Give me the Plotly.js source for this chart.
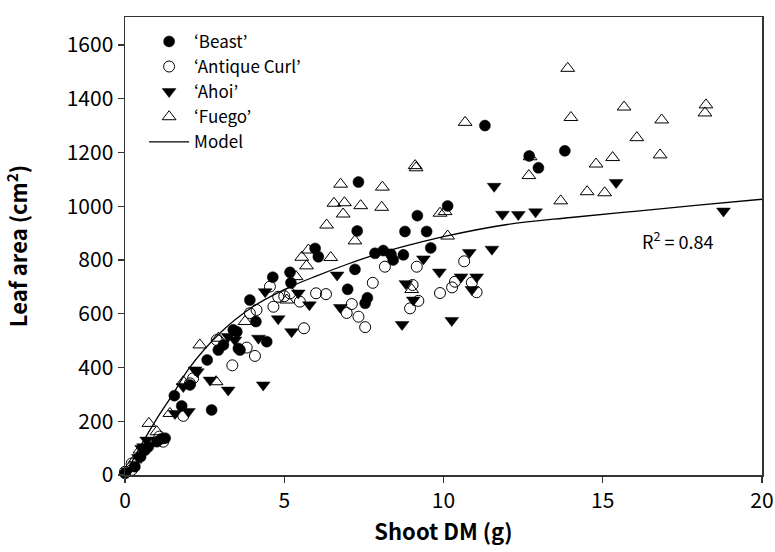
<!DOCTYPE html>
<html><head><meta charset="utf-8">
<script src="https://cdn.plot.ly/plotly-3.0.1.min.js"></script>
<style>body{margin:0;padding:0;background:#fff}#chart{width:775px;height:552px}</style>
</head><body><div id="chart"></div>
<script>
// Shoot DM (g) and Leaf area (cm2) per cultivar
const beastX = [0.0,0.31,0.49,0.63,0.73,1.0,1.15,1.26,1.55,1.78,2.04,2.58,2.72,2.93,3.09,3.40,3.51,3.56,3.61,3.92,4.11,4.45,4.64,5.18,5.21,5.97,6.07,6.99,7.22,7.29,7.33,7.54,7.61,7.85,8.11,8.35,8.42,8.74,8.79,9.18,9.47,9.60,10.13,11.30,12.69,12.98,13.81];
const beastY = [6,31,68,93,105,124,135,137,295,257,335,428,242,465,484,540,533,471,465,651,571,496,736,754,715,843,812,691,765,908,1090,639,659,825,835,821,800,819,906,965,906,845,1001,1300,1187,1143,1206];

const antiqueX = [0.0,0.21,0.21,0.78,1.08,1.20,1.83,2.04,2.14,2.88,3.37,3.82,4.08,3.92,4.13,4.55,4.66,4.81,5.18,5.0,5.49,5.62,6.00,6.31,6.96,7.12,7.33,7.54,7.78,8.16,8.95,9.03,9.16,9.21,9.89,10.27,10.36,10.65,10.89,11.04];
const antiqueY = [12,43,19,118,143,124,220,341,360,502,408,474,443,602,614,701,626,663,676,665,645,546,676,673,603,636,589,550,715,775,620,707,775,648,677,698,719,795,716,680];

const ahoiX = [0.10,0.42,0.52,0.58,0.68,1.57,1.83,1.99,2.20,2.27,2.67,3.24,3.24,3.45,4.19,4.34,4.40,4.81,5.23,5.44,5.79,6.66,6.76,8.70,8.82,9.05,9.37,9.87,10.26,10.55,10.81,10.89,11.04,11.52,11.59,11.85,12.35,12.89,15.42,18.79];
const ahoiY = [15,65,99,105,130,229,329,236,391,384,353,316,515,502,509,335,682,581,533,677,633,744,623,560,712,651,804,755,575,737,828,690,737,840,1074,970,969,979,1088,982];

const fuegoX = [0.16,0.31,0.47,0.75,1.0,1.41,1.83,2.35,2.86,2.93,3.77,5.08,5.37,5.55,5.70,5.76,6.33,6.46,6.56,6.77,6.85,6.89,7.22,7.40,8.06,8.08,9.00,9.11,9.14,9.89,10.05,10.13,10.68,12.68,12.72,13.68,13.90,14.00,14.51,14.79,15.06,15.31,15.67,16.07,16.80,16.85,18.21,18.24];
const fuegoY = [31,56,93,192,161,229,347,484,347,509,571,651,738,810,778,837,930,809,1011,1082,971,1013,871,1002,996,1071,690,1151,1143,974,980,889,1312,1114,1184,1020,1513,1330,1054,1157,1050,1181,1369,1255,1191,1321,1347,1377];

// Model curve
const modelX = [0,0.5,1,1.5,2,3,4,5,6,7,8,9,10,12,14,16,18,20];
const modelY = [0,110,210,300,395,530,625,690,740,785,825,858,887,932,958,981,1004,1026];

const xTicks = [0,5,10,15,20];
const yTicks = [0,200,400,600,800,1000,1200,1400,1600];
const r2Label = 'R<sup>2</sup> = 0.84';

const F = '"Noto Sans CJK KR", "Noto Sans", sans-serif';

const traces = [
  {x: beastX, y: beastY, name: "‘Beast’", mode: 'markers', type: 'scatter', cliponaxis: false,
   marker: {symbol: 'circle', size: 11, color: '#000', line: {width: 0.5, color: '#000'}}},
  {x: antiqueX, y: antiqueY, name: "‘Antique Curl’", mode: 'markers', type: 'scatter', cliponaxis: false,
   marker: {symbol: 'circle-open', size: 11, color: '#000', line: {width: 1, color: '#000'}}},
  {x: ahoiX, y: ahoiY, name: "‘Ahoi’", mode: 'markers', type: 'scatter', cliponaxis: false,
   marker: {symbol: 'triangle-down', size: 12, color: '#000', line: {width: 0.5, color: '#000'}}},
  {x: fuegoX, y: fuegoY, name: "‘Fuego’", mode: 'markers', type: 'scatter', cliponaxis: false,
   marker: {symbol: 'triangle-up-open', size: 12, color: '#000', line: {width: 1, color: '#000'}}},
  {x: modelX, y: modelY, name: 'Model', mode: 'lines', type: 'scatter',
   line: {color: '#000', width: 1.3, shape: 'spline'}}
];

const layout = {
  width: 775, height: 552,
  margin: {l: 125, r: 13, t: 17, b: 77},
  paper_bgcolor: '#fff', plot_bgcolor: '#fff',
  font: {family: F, color: '#000', size: 17},
  showlegend: true,
  legend: {x: 0.03, y: 0.985, xanchor: 'left', yanchor: 'top', bgcolor: 'rgba(0,0,0,0)',
           font: {family: F, size: 17, color: '#000'}, tracegroupgap: 0, itemwidth: 40},
  xaxis: {range: [0, 20], tickvals: xTicks, ticktext: xTicks.map(String), ticks: 'outside', ticklen: 6,
          tickcolor: '#333', tickwidth: 1.3, showline: true, linecolor: '#333', linewidth: 1.5, mirror: true,
          showgrid: false, zeroline: false, tickfont: {family: F, size: 21},
          title: {text: 'Shoot DM (g)', font: {family: F, size: 22, weight: 'bold'}, standoff: 8}},
  yaxis: {range: [0, 1704], tickvals: yTicks, ticktext: yTicks.map(String), ticks: 'outside', ticklen: 6,
          tickcolor: '#333', tickwidth: 1.3, showline: true, linecolor: '#333', linewidth: 1.5, mirror: true,
          showgrid: false, zeroline: false, tickfont: {family: F, size: 21},
          title: {text: 'Leaf area (cm<sup>2</sup>)', font: {family: F, size: 22, weight: 'bold'}, standoff: 36}},
  annotations: [{x: 17.35, y: 874, xref: 'x', yref: 'y', text: r2Label, showarrow: false,
                 font: {family: F, size: 18, color: '#000'}}]
};

Plotly.newPlot('chart', traces, layout, {displayModeBar: false, staticPlot: true});
</script></body></html>
